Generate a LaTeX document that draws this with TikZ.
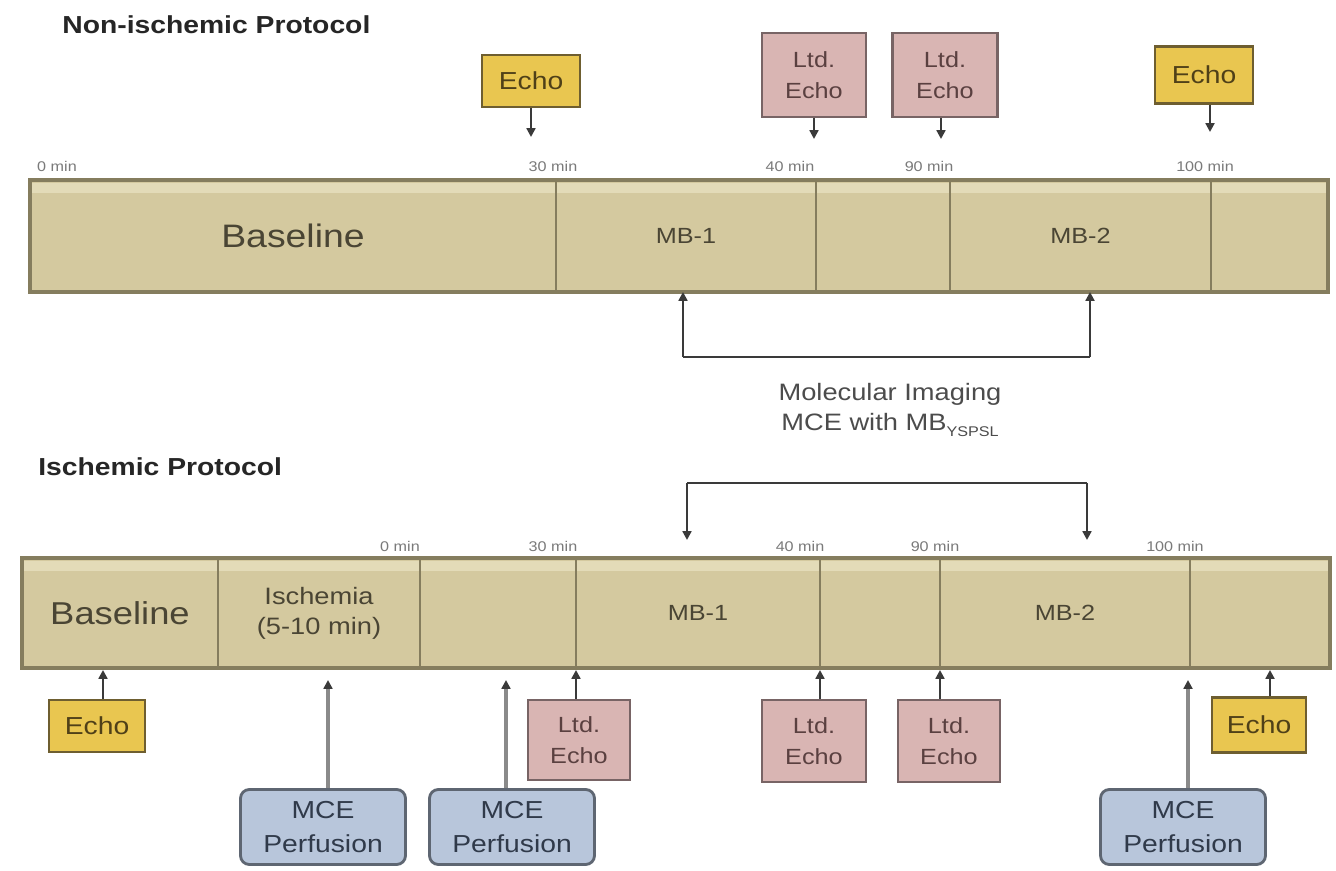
\documentclass[tikz,border=0pt]{standalone}
\usepackage{fontspec}
\setmainfont{Liberation Sans}[FakeStretch=1.15]
\usetikzlibrary{arrows.meta}
\definecolor{barfill}{HTML}{D4C99F}
\definecolor{barline}{HTML}{857D5E}
\definecolor{barhi}{HTML}{E3DBB8}
\definecolor{bartext}{HTML}{4A4534}
\definecolor{echofill}{HTML}{E9C650}
\definecolor{echoline}{HTML}{6E5E30}
\definecolor{echotext}{HTML}{4F4018}
\definecolor{ltdfill}{HTML}{D9B5B3}
\definecolor{ltdline}{HTML}{786465}
\definecolor{ltdtext}{HTML}{5A4040}
\definecolor{mcefill}{HTML}{B8C6DB}
\definecolor{mceline}{HTML}{5E6672}
\definecolor{mcetext}{HTML}{303A4A}
\definecolor{arrcol}{HTML}{3A3A3A}
\definecolor{mcearr}{HTML}{8A8A8A}
\definecolor{mintext}{HTML}{7A7A7A}
\tikzset{
  seg/.style={draw=barline, line width=0.9pt, fill=barfill, inner sep=0pt, text=bartext},
  frame/.style={draw=barline, line width=2pt},
  echobox/.style={draw=echoline, line width=1.6pt, fill=echofill, text=echotext, inner sep=0pt, font=\fontsize{14}{16}\selectfont, align=center},
  ltdbox/.style={draw=ltdline, line width=1.6pt, fill=ltdfill, text=ltdtext, inner sep=0pt, font=\fontsize{12.5}{18}\selectfont, align=center},
  mcebox/.style={draw=mceline, line width=1.6pt, fill=mcefill, text=mcetext, rounded corners=5pt, inner sep=0pt, font=\fontsize{14}{19}\selectfont, align=center},
  minlbl/.style={text=mintext, font=\fontsize{8}{9}\selectfont, inner sep=0pt},
  arr/.style={draw=arrcol, line width=1.3pt, -{Triangle[length=5pt,width=5pt]}},
  mcearrow/.style={draw=mcearr, line width=2pt, -{Triangle[length=5pt,width=5pt,color=arrcol]}},
  brk/.style={draw=arrcol, line width=1.4pt},
  title/.style={font=\bfseries\fontsize{14}{16}\selectfont, text=black!85, anchor=west, inner sep=0pt}
}
\begin{document}
\begin{tikzpicture}[x=0.02cm,y=-0.02cm]
\useasboundingbox[fill=white] (0,0) rectangle (1336,871);

% ---------- Non-ischemic protocol ----------
\node[title] (t1) at (62,25) {Non-ischemic Protocol};

\node[seg, minimum width=10.52cm, minimum height=2.24cm, font=\fontsize{18.5}{20}\selectfont] (a1) at (293,236) {Baseline};
\node[seg, minimum width=5.2cm, minimum height=2.24cm, font=\fontsize{12.5}{14}\selectfont] (a2) at (686,236) {MB-1};
\node[seg, minimum width=2.68cm, minimum height=2.24cm] (a3) at (883,236) {};
\node[seg, minimum width=5.22cm, minimum height=2.24cm, font=\fontsize{12.5}{14}\selectfont] (a4) at (1080.5,236) {MB-2};
\node[seg, minimum width=2.34cm, minimum height=2.24cm] (a5) at (1269.5,236) {};
\fill[barhi] (31,183) rectangle (1327,193);
\draw[barline, line width=0.9pt] (556,183) -- (556,193) (816,183) -- (816,193) (950,183) -- (950,193) (1211,183) -- (1211,193);
\draw[frame] (30,180) rectangle (1328,292);

\node[minlbl] (m0) at (57,166) {0 min};
\node[minlbl] (m30) at (553,166) {30 min};
\node[minlbl] (m40) at (790,166) {40 min};
\node[minlbl] (m90) at (929,166) {90 min};
\node[minlbl] (m100) at (1205,166) {100 min};

\node[echobox, minimum width=1.96cm, minimum height=1.04cm] (e1) at (531,81) {Echo};
\node[ltdbox, minimum width=2.08cm, minimum height=1.68cm] (l1) at (814,75) {Ltd.\\Echo};
\node[ltdbox, minimum width=2.1cm, minimum height=1.68cm] (l2) at (945,75) {Ltd.\\Echo};
\node[echobox, minimum width=1.96cm, minimum height=1.14cm] (e2) at (1204,75) {Echo};

\coordinate (p1) at (531,137);
\coordinate (p2) at (814,139);
\coordinate (p3) at (941,139);
\coordinate (p4) at (1210,132);
\draw[arr] (e1.south -| p1) -- (p1);
\draw[arr] (l1.south -| p2) -- (p2);
\draw[arr] (l2.south -| p3) -- (p3);
\draw[arr] (e2.south -| p4) -- (p4);

% bracket between protocols
\coordinate (ba) at (683,292);
\coordinate (bb) at (1090,292);
\coordinate (bc) at (683,357);
\coordinate (bd) at (1090,357);
\draw[brk] (bc) -- (bd);
\draw[arr] (bc) -- (ba);
\draw[arr] (bd) -- (bb);

\node[font=\fontsize{13.5}{17}\selectfont, text=black!70, align=center] (mol) at (890,410) {Molecular Imaging\\MCE with MB\raisebox{-0.5ex}{\fontsize{8}{9}\selectfont YSPSL}};

% ---------- Ischemic protocol ----------
\node[title] (t2) at (38,467) {Ischemic Protocol};

\coordinate (bf) at (687,540);
\coordinate (bg) at (1087,540);
\coordinate (bh) at (687,483);
\coordinate (bi) at (1087,483);
\draw[brk] (bh) -- (bi);
\draw[arr] (bh) -- (bf);
\draw[arr] (bi) -- (bg);

\node[seg, minimum width=3.92cm, minimum height=2.2cm, font=\fontsize{18}{20}\selectfont] (b1) at (120,613) {Baseline};
\node[seg, minimum width=4.04cm, minimum height=2.2cm, font=\fontsize{13.5}{17}\selectfont, align=center] (b2) at (319,613) {Ischemia\\(5-10 min)};
\node[seg, minimum width=3.12cm, minimum height=2.2cm] (b3) at (498,613) {};
\node[seg, minimum width=4.88cm, minimum height=2.2cm, font=\fontsize{12.5}{14}\selectfont] (b4) at (698,613) {MB-1};
\node[seg, minimum width=2.4cm, minimum height=2.2cm] (b5) at (880,613) {};
\node[seg, minimum width=5cm, minimum height=2.2cm, font=\fontsize{12.5}{14}\selectfont] (b6) at (1065,613) {MB-2};
\node[seg, minimum width=2.8cm, minimum height=2.2cm] (b7) at (1260,613) {};
\fill[barhi] (23,561) rectangle (1329,571);
\draw[barline, line width=0.9pt] (218,561) -- (218,571) (420,561) -- (420,571) (576,561) -- (576,571) (820,561) -- (820,571) (940,561) -- (940,571) (1190,561) -- (1190,571);
\draw[frame] (22,558) rectangle (1330,668);

\node[minlbl] (n0) at (400,546) {0 min};
\node[minlbl] (n30) at (553,546) {30 min};
\node[minlbl] (n40) at (800,546) {40 min};
\node[minlbl] (n90) at (935,546) {90 min};
\node[minlbl] (n100) at (1175,546) {100 min};

\node[echobox, minimum width=1.92cm, minimum height=1.04cm] (e3) at (97,726) {Echo};
\node[mcebox, minimum width=3.3cm, minimum height=1.5cm] (c1) at (323,827) {MCE\\Perfusion};
\node[mcebox, minimum width=3.3cm, minimum height=1.5cm] (c2) at (512,827) {MCE\\Perfusion};
\node[ltdbox, minimum width=2.04cm, minimum height=1.6cm] (l3) at (579,740) {Ltd.\\Echo};
\node[ltdbox, minimum width=2.08cm, minimum height=1.64cm] (l4) at (814,741) {Ltd.\\Echo};
\node[ltdbox, minimum width=2.04cm, minimum height=1.64cm] (l5) at (949,741) {Ltd.\\Echo};
\node[mcebox, minimum width=3.3cm, minimum height=1.5cm] (c3) at (1183,827) {MCE\\Perfusion};
\node[echobox, minimum width=1.88cm, minimum height=1.1cm] (e4) at (1259,725) {Echo};

\coordinate (q1) at (103,670);
\coordinate (q2) at (328,680);
\coordinate (q3) at (506,680);
\coordinate (q4) at (576,670);
\coordinate (q5) at (820,670);
\coordinate (q6) at (940,670);
\coordinate (q7) at (1188,680);
\coordinate (q8) at (1270,670);
\draw[arr] (e3.north -| q1) -- (q1);
\draw[mcearrow] (c1.north -| q2) -- (q2);
\draw[mcearrow] (c2.north -| q3) -- (q3);
\draw[arr] (l3.north -| q4) -- (q4);
\draw[arr] (l4.north -| q5) -- (q5);
\draw[arr] (l5.north -| q6) -- (q6);
\draw[mcearrow] (c3.north -| q7) -- (q7);
\draw[arr] (e4.north -| q8) -- (q8);
\end{tikzpicture}
\end{document}
